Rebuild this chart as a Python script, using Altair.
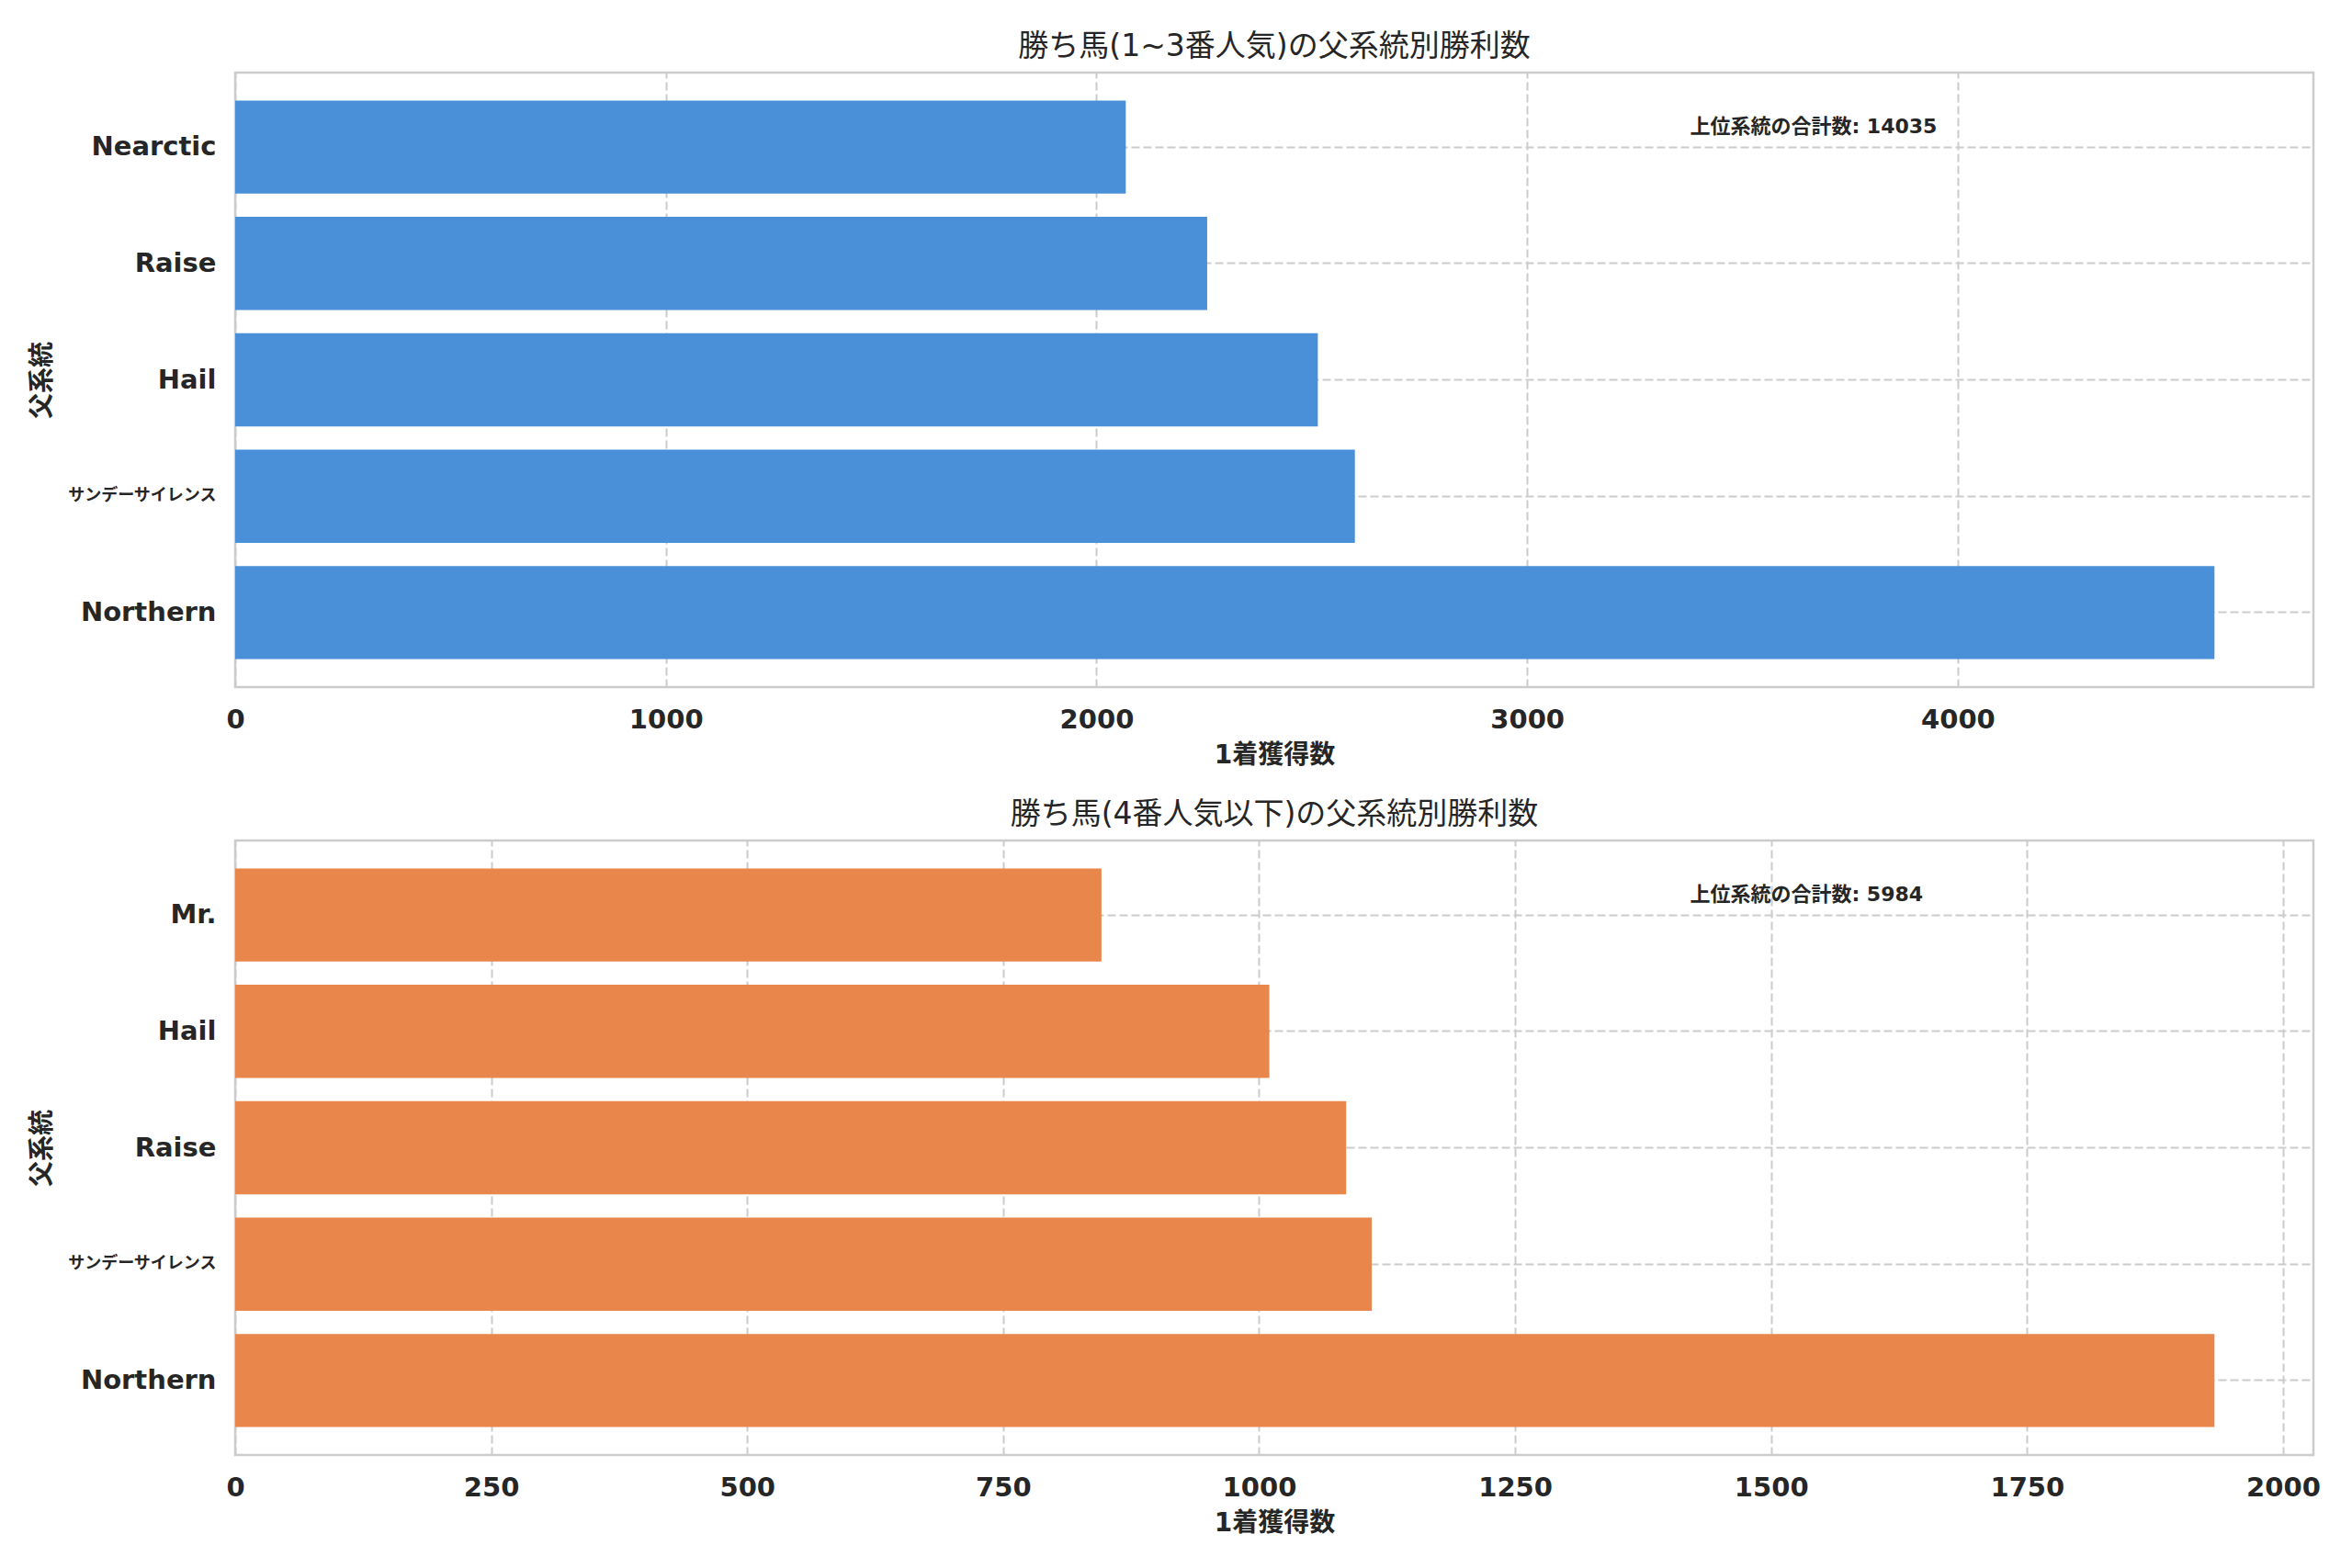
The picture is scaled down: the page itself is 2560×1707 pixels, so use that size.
import altair as alt
import pandas as pd

# ---- data ----
top_categories = ["Nearctic", "Raise", "Hail", "サンデーサイレンス", "Northern"]
top_wins = [2068, 2257, 2514, 2600, 4596]
top_title = "勝ち馬(1~3番人気)の父系統別勝利数"

bottom_categories = ["Mr.", "Hail", "Raise", "サンデーサイレンス", "Northern"]
bottom_wins = [846, 1010, 1085, 1110, 1933]
bottom_title = "勝ち馬(4番人気以下)の父系統別勝利数"

top_ticks = [0, 1000, 2000, 3000, 4000]
bottom_ticks = [0, 250, 500, 750, 1000, 1250, 1500, 1750, 2000]

x_label = "1着獲得数"
y_label = "父系統"
total_label = "上位系統の合計数"

W, H = 2262, 669
FONT = "DejaVu Sans, Noto Sans CJK JP"
TXT = "#262626"
GRID = "#cccccc"


def panel(cats, vals, color, title, ticks):
    df = pd.DataFrame({"cat": cats, "val": vals})
    xmax = max(vals) * 1.05
    bars = alt.Chart(df).mark_bar(color=color).encode(
        x=alt.X(
            "val:Q",
            scale=alt.Scale(domain=[0, xmax], nice=False, zero=True),
            axis=alt.Axis(
                values=ticks,
                format="d",
                title=x_label,
                grid=True,
                gridColor=GRID,
                gridDash=[9, 4],
                gridWidth=2,
                domain=False,
                ticks=False,
                labelFlush=False,
                labelFontSize=29,
                labelFontWeight="bold",
                labelColor=TXT,
                labelPadding=21,
                titleFontSize=28,
                titleFontWeight="bold",
                titleColor=TXT,
                titlePadding=10,
            ),
        ),
        y=alt.Y(
            "cat:N",
            sort=cats,
            scale=alt.Scale(paddingInner=0.2, paddingOuter=0.24),
            axis=alt.Axis(
                title=y_label,
                grid=True,
                gridColor=GRID,
                gridDash=[9, 4],
                gridWidth=2,
                domain=False,
                ticks=False,
                labelFontSize={
                    "condition": {"test": "datum.value == 'サンデーサイレンス'", "value": 18},
                    "value": 29,
                },
                labelFontWeight="bold",
                labelColor=TXT,
                labelPadding=21,
                titleFontSize=28,
                titleFontWeight="bold",
                titleColor=TXT,
                titlePadding=13,
            ),
        ),
    )
    ann_df = pd.DataFrame({"t": [f"{total_label}: {sum(vals)}"]})
    ann = alt.Chart(ann_df).mark_text(
        align="left", baseline="middle", fontSize=22, fontWeight="bold", color=TXT, font=FONT
    ).encode(x=alt.value(W * 0.7), y=alt.value(59), text="t:N")
    return alt.layer(bars, ann).properties(
        width=W,
        height=H,
        title=alt.TitleParams(title, fontSize=33, fontWeight="normal", color=TXT, offset=11, font=FONT),
    )


top = panel(top_categories, top_wins, "#4A90D9", top_title, top_ticks)
bottom = panel(bottom_categories, bottom_wins, "#E8864C", bottom_title, bottom_ticks)

chart = (
    alt.vconcat(top, bottom, spacing=31)
    .properties(padding={"left": 22, "top": 25, "right": 5, "bottom": 5}, background="white")
    .configure(font=FONT)
    .configure_view(stroke=GRID, strokeWidth=2.5)
)

chart.save("out.html", embed_options={"renderer": "svg", "actions": False})
